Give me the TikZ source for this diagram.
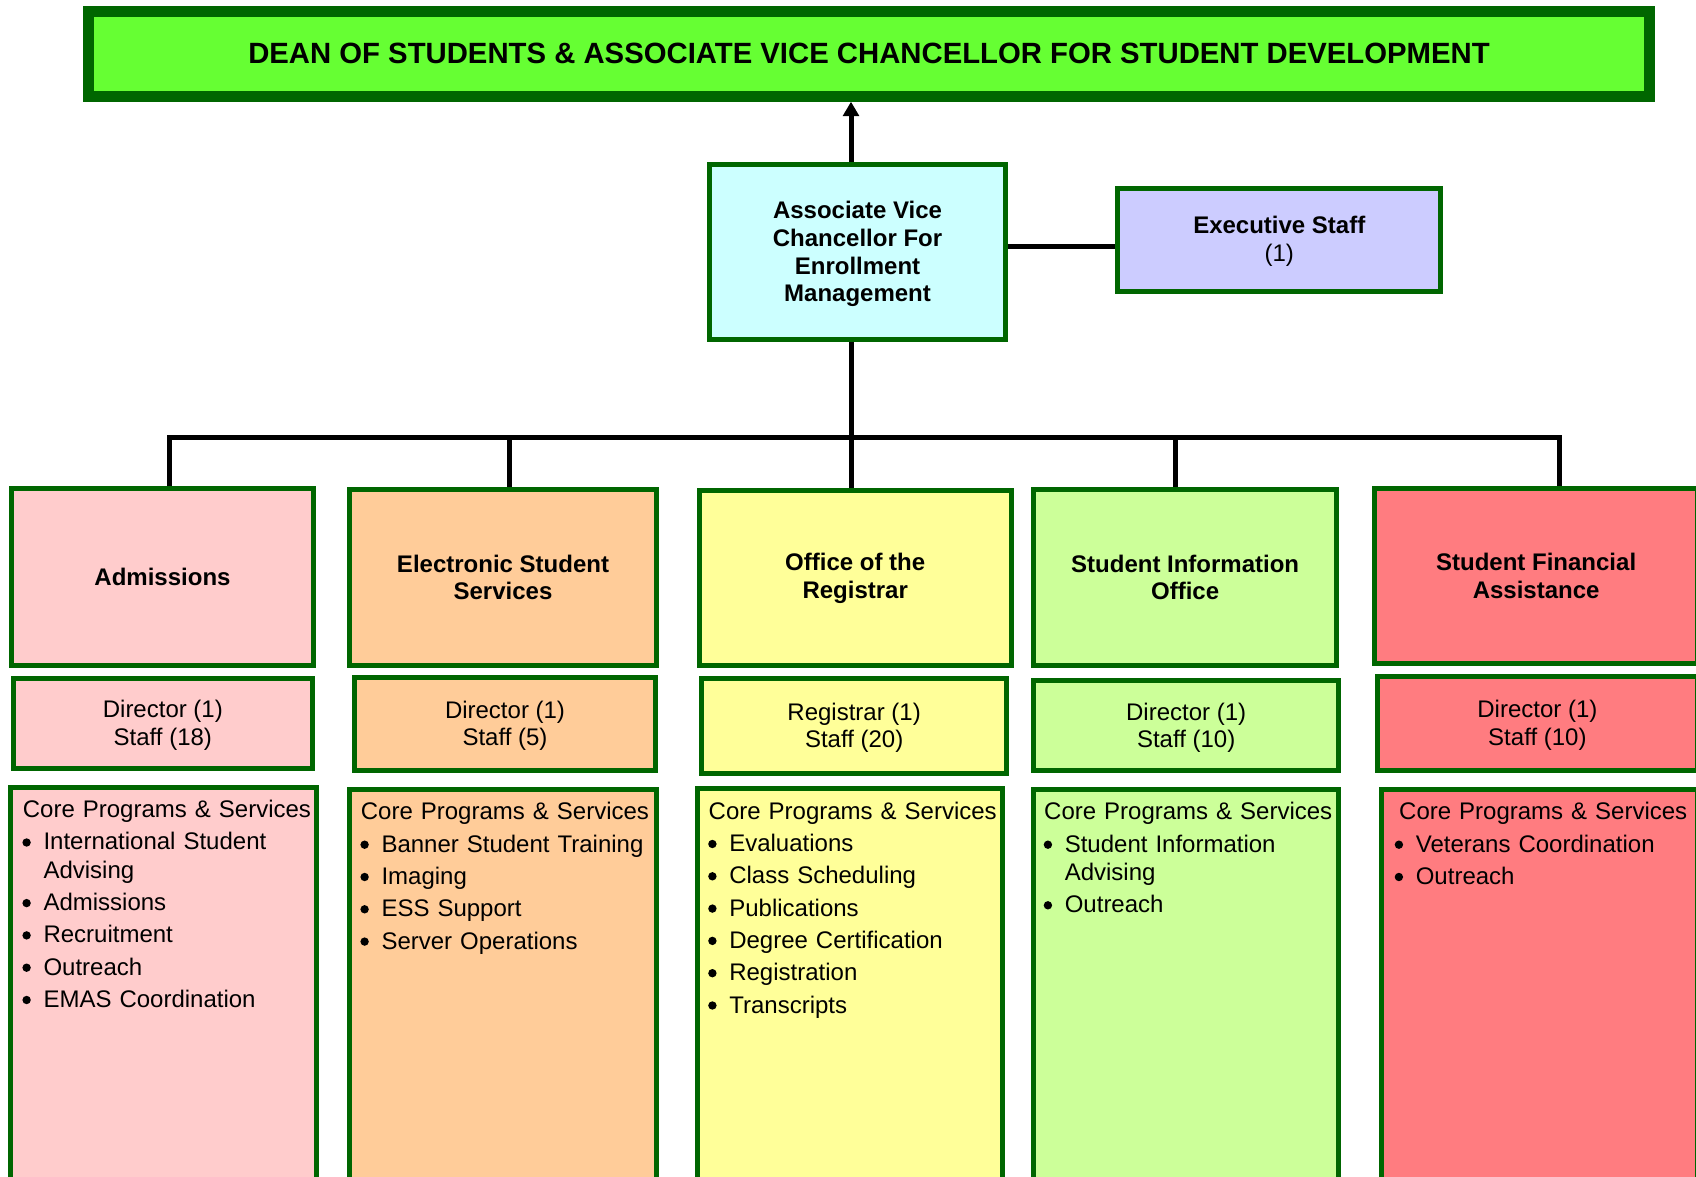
\documentclass[tikz,border=0pt]{standalone}
\usepackage{fontspec}
\setmainfont{Liberation Sans}
\usetikzlibrary{arrows.meta,calc}
\definecolor{bord}{HTML}{006600}
\definecolor{deanfill}{HTML}{66FF33}
\definecolor{avcfill}{HTML}{CCFFFF}
\definecolor{execfill}{HTML}{CCCCFF}
\definecolor{admfill}{HTML}{FFCCCC}
\definecolor{essfill}{HTML}{FFCC99}
\definecolor{regfill}{HTML}{FFFF99}
\definecolor{siofill}{HTML}{CCFF99}
\definecolor{sfafill}{HTML}{FF7C80}
\hyphenpenalty=10000
\exhyphenpenalty=10000
\newcommand\bdot{\raisebox{3.3pt}{\tikz\fill[black] (0,0) circle (4.2pt);}}
\newcommand\bitem[1]{\par\vspace{4pt}\noindent\hangindent=20.6pt\hangafter=1\makebox[20.6pt][l]{\hspace{-0.5pt}\bdot}#1}
\tikzset{
  basefont/.style={font=\fontsize{24}{27.6}\selectfont},
  orgbox/.style={draw=bord, line width=5pt, rectangle, inner sep=0pt, align=center, basefont},
  headbox/.style={orgbox, font=\fontsize{24}{27.6}\selectfont\bfseries},
  twoline/.style={text height=48.6pt, text depth=5pt},
  conn/.style={draw=black, line width=5pt, line join=miter},
  listtxt/.style={anchor=north west, inner sep=0pt, text width=310pt, align=left,
                  font=\fontsize{24}{28.3}\selectfont},
}
\begin{document}
\begin{tikzpicture}[x=1pt,y=-1pt]
\useasboundingbox (0,0) rectangle (1696,1177);
\fill[white] (0,0) rectangle (1696,1177);
\clip (0,0) rectangle (1696,1177);

% top
\node[orgbox, line width=10.7pt, fill=deanfill, minimum width=1561.3pt, minimum height=85pt,
      font=\fontsize{29.3}{33}\selectfont\bfseries] (dean) at (869,53.85)
  {DEAN OF STUDENTS \& ASSOCIATE VICE CHANCELLOR FOR STUDENT DEVELOPMENT};

\node[headbox, fill=avcfill, minimum width=295.4pt, minimum height=174.7pt,
      text height=104.7pt, text depth=5pt] (avc) at (857.5,251.85)
  {Associate Vice\\Chancellor For\\Enrollment\\Management};
\node[orgbox, fill=execfill, minimum width=323pt, minimum height=102.7pt,
      text height=47.3pt, text depth=5pt] (exec) at (1279.3,239.85)
  {\textbf{Executive Staff}\\(1)};

% row 1
\node[headbox, fill=admfill, minimum width=301.4pt, minimum height=177pt] (adm1) at (162.5,577.3) {Admissions};
\node[headbox, fill=essfill, minimum width=306.4pt, minimum height=176.6pt] (ess1) at (503,577.5) {Electronic Student\\Services};
\node[headbox, fill=regfill, minimum width=312pt, minimum height=175pt] (reg1) at (855.2,578.3) {Office of the\\Registrar};
\node[headbox, fill=siofill, minimum width=303.3pt, minimum height=176.8pt] (sio1) at (1185.15,577.4) {Student Information\\Office};
\node[headbox, fill=sfafill, minimum width=322.7pt, minimum height=174.4pt] (sfa1) at (1536.15,576) {Student Financial\\Assistance};

% row 2
\node[orgbox, twoline, fill=admfill, minimum width=298.7pt, minimum height=89.7pt] (adm2) at (162.85,723.35) {Director (1)\\Staff (18)};
\node[orgbox, twoline, fill=essfill, minimum width=300.4pt, minimum height=93.3pt] (ess2) at (505,724.15) {Director (1)\\Staff (5)};
\node[orgbox, twoline, fill=regfill, minimum width=305.3pt, minimum height=95pt] (reg2) at (854.15,726) {Registrar (1)\\Staff (20)};
\node[orgbox, twoline, fill=siofill, minimum width=305.3pt, minimum height=90pt] (sio2) at (1186.15,725.8) {Director (1)\\Staff (10)};
\node[orgbox, twoline, fill=sfafill, minimum width=320.3pt, minimum height=94.3pt] (sfa2) at (1537.35,723.65) {Director (1)\\Staff (10)};

% row 3
\node[orgbox, fill=admfill, minimum width=305.7pt, minimum height=405.5pt] (adm3) at (163.65,989.75) {};
\node[orgbox, fill=essfill, minimum width=306.4pt, minimum height=403.3pt] (ess3) at (503,990.85) {};
\node[orgbox, fill=regfill, minimum width=305.3pt, minimum height=404pt] (reg3) at (850.15,990.5) {};
\node[orgbox, fill=siofill, minimum width=305.3pt, minimum height=403.3pt] (sio3) at (1186.15,990.85) {};
\node[orgbox, fill=sfafill, minimum width=315.7pt, minimum height=403.3pt] (sfa3) at (1539.65,990.85) {};

\node[listtxt] (admL) at ($(adm3.north west)+(14.4,15.6)$) {Core Programs \& Services
  \bitem{International Student Advising}\bitem{Admissions}\bitem{Recruitment}\bitem{Outreach}\bitem{EMAS Coordination}};
\node[listtxt] (essL) at ($(ess3.north west)+(13.4,15.6)$) {Core Programs \& Services
  \bitem{Banner Student Training}\bitem{Imaging}\bitem{ESS Support}\bitem{Server Operations}};
\node[listtxt] (regL) at ($(reg3.north west)+(13.5,15.6)$) {Core Programs \& Services
  \bitem{Evaluations}\bitem{Class Scheduling}\bitem{Publications}\bitem{Degree Certification}\bitem{Registration}\bitem{Transcripts}};
\node[listtxt] (sioL) at ($(sio3.north west)+(13,15.6)$) {Core Programs \& Services
  \bitem{Student Information Advising}\bitem{Outreach}};
\node[listtxt] (sfaL) at ($(sfa3.north west)+(15.7,15.6)$) {\hspace*{4pt}Core Programs \& Services
  \bitem{Veterans Coordination}\bitem{Outreach}};

% connectors
\coordinate (xc) at (851,0);
\coordinate (ey) at (0,246);
\coordinate (bl) at (169,437.7);
\coordinate (br) at (1559,437.7);
\coordinate (xess) at (509,0);
\coordinate (xsio) at (1175,0);

\draw[conn, -{Triangle[length=14.4pt,width=15.7pt]}] (avc.north -| xc) -- (dean.south -| xc);
\draw[conn] (avc.east |- ey) -- (exec.west |- ey);
\draw[conn] (avc.south -| xc) -- (reg1.north -| xc);
\draw[conn] (adm1.north -| bl) -- (bl) -- (br) -- (sfa1.north -| br);
\draw[conn] (bl -| xess) -- (ess1.north -| xess);
\draw[conn] (bl -| xsio) -- (sio1.north -| xsio);
\end{tikzpicture}
\end{document}
